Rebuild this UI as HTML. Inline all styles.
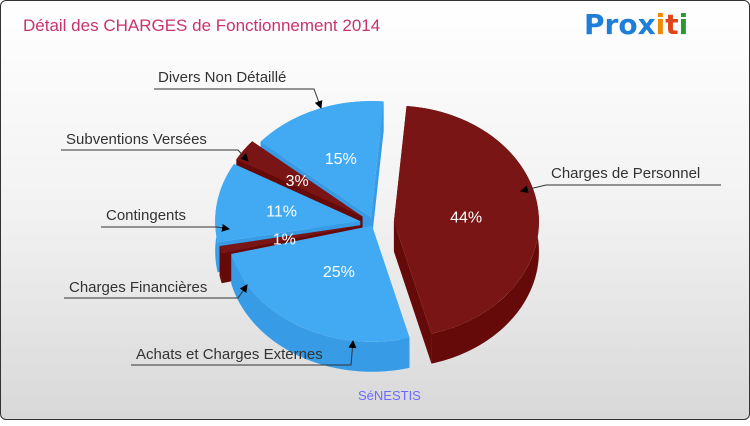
<!DOCTYPE html>
<html><head><meta charset="utf-8"><style>
body{margin:0;width:750px;height:420px;overflow:hidden;font-family:"Liberation Sans",sans-serif}
#c{position:absolute;left:0;top:0;width:748px;height:418px;border:1px solid #333;border-radius:6px;background:linear-gradient(#fff,#f2f2f2 50%,#d8d8d8)}
</style></head><body>
<div id="c">
<svg id="s" width="750" height="420">
<text x="22" y="30" font-size="17" fill="#c8336e">Détail des CHARGES de Fonctionnement 2014</text>
<text x="583" y="33" font-size="28" font-weight="bold" font-family="DejaVu Sans,sans-serif"><tspan fill="#1e7fd8">Pro</tspan><tspan fill="#1e7fd8">x</tspan><tspan fill="#f08a00">i</tspan><tspan fill="#e0451a">t</tspan><tspan fill="#2a9a30">i</tspan></text>
<text x="357" y="399" font-size="13" fill="#6b6bff">SéNESTIS</text>
<g id="pie"></g><g id="lab"></g>
</svg></div>
<script>
const categories=["Charges de Personnel","Achats et Charges Externes","Charges Financières","Contingents","Subventions Versées","Divers Non Détaillé"];
const values=[44,25,1,11,3,15];
const explode=[20,4,12,14,14,8];
const colorsTop=["#7a1515","#42aaf2","#7a1515","#42aaf2","#7a1515","#42aaf2"];
const colorsSide=["#650909","#379be6","#650909","#379be6","#650909","#379be6"];
const cx=373,cy=222,rx=145,ry=116,dep=30;
const ns="http://www.w3.org/2000/svg";
const pie=document.getElementById('pie');
const total=values.reduce((a,b)=>a+b,0);
let a0=-85,sl=[];
values.forEach((v,i)=>{const a1=a0+v/total*360;sl.push({i,a0,a1,m:(a0+a1)/2});a0=a1;});
const rad=d=>d*Math.PI/180;
function pt(s,a,dy){return [cx+s.ox+rx*Math.cos(rad(a)),cy+s.oy+ry*Math.sin(rad(a))+dy];}
sl.forEach(s=>{s.ox=explode[s.i]*Math.cos(rad(s.m));s.oy=explode[s.i]*Math.sin(rad(s.m))*0.8;});
function mk(d,fill,name){const p=document.createElementNS(ns,'path');p.setAttribute('d',d);p.setAttribute('fill',fill);


pie.appendChild(p);}
[...sl].sort((a,b)=>Math.sin(rad(a.m))-Math.sin(rad(b.m))).forEach(s=>{
 const c=[cx+s.ox,cy+s.oy];
 [s.a0,s.a1].forEach(a=>{const p=pt(s,a,0);mk(`M${c[0]},${c[1]}L${p[0]},${p[1]}L${p[0]},${p[1]+dep}L${c[0]},${c[1]+dep}Z`,colorsSide[s.i],'slice-edge');});
 let pts=[];for(let a=s.a0;a<=s.a1+0.01;a+=1){pts.push(pt(s,Math.min(a,s.a1),0));}
 pts.push(pt(s,s.a1,0));
 const d='M'+pts.map(p=>p.join(',')).join('L')+'L'+pts.slice().reverse().map(p=>p[0]+','+(p[1]+dep)).join('L')+'Z';
 mk(d,colorsSide[s.i],'slice-side');
 const p0=pt(s,s.a0,0),p1=pt(s,s.a1,0);
 mk(`M${c[0]},${c[1]}L${p0[0]},${p0[1]}A${rx},${ry} 0 ${s.a1-s.a0>180?1:0} 1 ${p1[0]},${p1[1]}Z`,colorsTop[s.i],'slice-'+categories[s.i].toLowerCase().replace(/\s+/g,'-'));
});
sl.forEach(s=>{const t=document.createElementNS(ns,'text');
 const r=s.i==0?0.5:(s.i==1?0.45:0.55);
 t.setAttribute('x',cx+s.ox+rx*r*Math.cos(rad(s.m)));t.setAttribute('y',cy+s.oy+ry*r*Math.sin(rad(s.m))+6);
 t.setAttribute('text-anchor','middle');t.setAttribute('fill','#fff');t.setAttribute('font-size','16');
 t.textContent=values[s.i]+'%';
 
 
 pie.appendChild(t);});
const lab=document.getElementById('lab');
const L=[[550,177,545,720,184,520,190,0],[135,358,130,350,364,352,340,1],[68,291,63,237,297,246,284,2],[105,219,100,216,226,228,228,3],[65,143,60,237,149,247,160,4],[157,81,153,313,88,320,107,5]];
let h='<defs><marker id="ar" markerWidth="8" markerHeight="8" refX="7" refY="4" orient="auto"><path d="M0,0L8,4L0,8Z" fill="#000"/></marker></defs>';
L.forEach(l=>{h+=`<text x="${l[0]}" y="${l[1]}" font-size="15" fill="#333">${categories[l[7]]}</text>`;
 const ex=l[7]==0?l[2]:l[3];
 h+=`<polyline points="${l[7]==0?l[3]:l[2]},${l[4]} ${ex},${l[4]} ${l[5]},${l[6]}" fill="none" stroke="#333" stroke-width="1" marker-end="url(#ar)"/>`;});
lab.innerHTML=h;
</script>
</body></html>
